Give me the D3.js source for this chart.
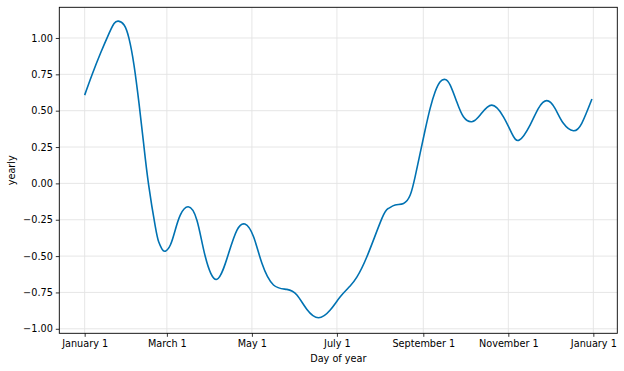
<!DOCTYPE html>
<html>
<head>
<meta charset="utf-8">
<script src="https://cdn.jsdelivr.net/npm/d3@7"></script>
<style>
  body { margin: 0; background: #fff; }
  text { font-family: "DejaVu Sans", sans-serif; fill: #000; }
</style>
</head>
<body>
<div class="chart"></div>
<script>
// day of year (0 = January 1) and yearly component
var days = [0, 5.5, 11.5, 17.5, 21.1, 24.2, 28.3, 31.8, 35.4, 39, 42.3, 45.9, 50.7, 53.1, 55.5, 57.9,
  61.5, 65, 68.6, 74.3, 80.6, 86.6, 94.9, 103.3, 109.3, 115, 121.2, 127.2, 135.5, 145.1,
  152.3, 159.5, 167.8, 176.2, 183.4, 190.5, 195.3, 202.5, 213.3, 218, 222.8, 228.8, 233.6,
  237.1, 240.7, 244.3, 247.9, 251.5, 255.1, 258.7, 262.3, 267, 271.8, 277.8, 283.8,
  292.1, 300.5, 306.5, 311.9, 319.6, 325.6, 331.6, 337.5, 343.5, 350.7, 356.7, 364];
var yearly = [0.607, 0.752, 0.898, 1.032, 1.1, 1.116, 1.089, 0.997, 0.814, 0.55, 0.275, -0.01, -0.298, -0.402, -0.452, -0.466,
  -0.424, -0.321, -0.218, -0.161, -0.255, -0.505, -0.66, -0.481, -0.321, -0.28, -0.367, -0.55, -0.699, -0.729,
  -0.768, -0.867, -0.924, -0.871, -0.78, -0.706, -0.645, -0.505, -0.241, -0.172, -0.149, -0.138, -0.08,
  0.045, 0.206, 0.367, 0.516, 0.63, 0.699, 0.715, 0.676, 0.561, 0.458, 0.424, 0.47,
  0.538, 0.458, 0.344, 0.298, 0.401, 0.516, 0.569, 0.516, 0.413, 0.362, 0.413, 0.58];
var yTicks = [-1, -0.75, -0.5, -0.25, 0, 0.25, 0.5, 0.75, 1];

var svgWidth = 624, svgHeight = 371;
var margin = { top: 7.3, right: 6.7, bottom: 37.7, left: 59.3 };
var chartWidth = svgWidth - margin.left - margin.right;
var chartHeight = svgHeight - margin.top - margin.bottom;

var start = new Date(2017, 0, 1);
var dayMs = 86400000;
function toDate(d) { return new Date(start.getTime() + d * dayMs); }

var data = days.map(function (d, i) { return { date: toDate(d), value: yearly[i] }; });

var svg = d3.select(".chart").append("svg")
  .attr("width", svgWidth)
  .attr("height", svgHeight);

var chartGroup = svg.append("g")
  .attr("transform", `translate(${margin.left}, ${margin.top})`);

// matplotlib style 5% margins
var xScale = d3.scaleTime()
  .domain([toDate(-18.2), toDate(382.2)])
  .range([0, chartWidth]);

var yScale = d3.scaleLinear()
  .domain([-1.031, 1.211])
  .range([chartHeight, 0]);

var xTicks = d3.timeMonth.every(2).range(toDate(-18.2), toDate(382.2));

// grid
chartGroup.append("g").selectAll("line")
  .data(xTicks).enter().append("line")
  .attr("x1", d => xScale(d)).attr("x2", d => xScale(d))
  .attr("y1", 0).attr("y2", chartHeight)
  .attr("stroke", "#e3e3e3").attr("stroke-width", 0.9);

chartGroup.append("g").selectAll("line")
  .data(yTicks).enter().append("line")
  .attr("x1", 0).attr("x2", chartWidth)
  .attr("y1", d => yScale(d)).attr("y2", d => yScale(d))
  .attr("stroke", "#e3e3e3").attr("stroke-width", 0.9);

// line
var line = d3.line()
  .x(d => xScale(d.date))
  .y(d => yScale(d.value))
  .curve(d3.curveNatural);

chartGroup.append("path")
  .datum(data)
  .attr("d", line)
  .attr("fill", "none")
  .attr("stroke", "#0072B2")
  .attr("stroke-width", 1.6);

// axes
var xAxis = d3.axisBottom(xScale)
  .tickValues(xTicks)
  .tickFormat(d3.timeFormat("%B %-d"))
  .tickSize(3.5).tickPadding(3).tickSizeOuter(0);
var yAxis = d3.axisLeft(yScale)
  .tickValues(yTicks)
  .tickFormat(d3.format(".2f"))
  .tickSize(3.5).tickPadding(3).tickSizeOuter(0);

var gx = chartGroup.append("g")
  .attr("transform", `translate(0, ${chartHeight})`)
  .call(xAxis);
var gy = chartGroup.append("g").call(yAxis);

[gx, gy].forEach(function (g) {
  g.select(".domain").remove();
  g.selectAll(".tick line").attr("stroke", "#000").attr("stroke-width", 0.8);
  g.selectAll(".tick text").attr("font-size", "9.7px").attr("font-family", "DejaVu Sans").attr("fill", "#000");
});

// frame
chartGroup.append("rect")
  .attr("width", chartWidth).attr("height", chartHeight)
  .attr("fill", "none").attr("stroke", "#000").attr("stroke-width", 0.9);

// labels
chartGroup.append("text")
  .attr("x", chartWidth / 2)
  .attr("y", chartHeight + 28.5)
  .attr("text-anchor", "middle")
  .attr("font-size", "9.7px")
  .text("Day of year");

chartGroup.append("text")
  .attr("transform", "rotate(-90)")
  .attr("x", -chartHeight / 2)
  .attr("y", -margin.left + 14.5)
  .attr("text-anchor", "middle")
  .attr("font-size", "9.7px")
  .text("yearly");
</script>
</body>
</html>
